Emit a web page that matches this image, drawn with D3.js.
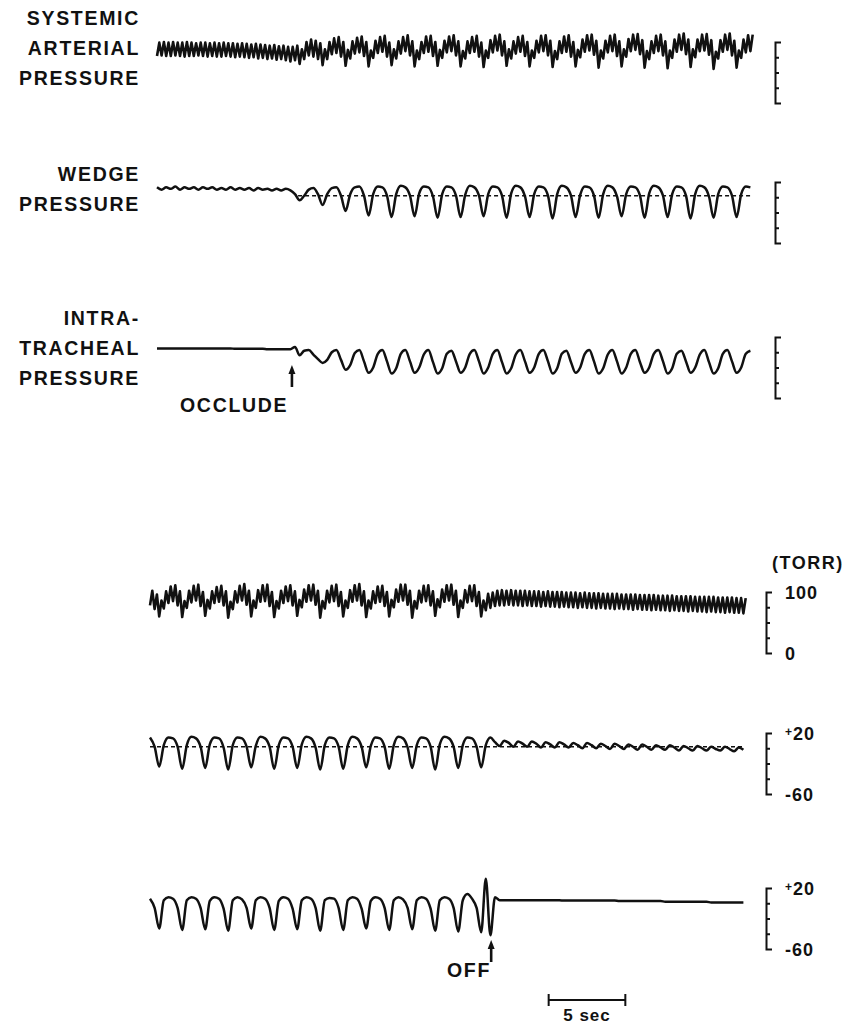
<!DOCTYPE html>
<html>
<head>
<meta charset="utf-8">
<script src="https://cdn.jsdelivr.net/npm/d3@7/dist/d3.min.js"></script>
<style>
  body { margin: 0; background: #fff; }
  svg { display: block; }
  text { font-family: "Liberation Sans", Arial, sans-serif; fill: #111; font-weight: bold; }
</style>
</head>
<body>
<svg id="chart" width="851" height="1030"></svg>
<script>
const artStep = 0.15;   // arterial: alternating diastolic / systolic
const respStep = 0.3;   // wedge and intratracheal

// event times (s)
const occludeAt = 8.8;
const offAt = 22.25;

// systemic arterial pressure (torr), before / after occlusion
const arterialTop = [
  77,99, 78,100, 77,99, 77,100, 78,99, 77,99, 76,100, 77,99, 77,98, 78,99,
  77,99, 76,98, 77,99, 76,98, 76,99, 77,98, 76,98, 75,97, 76,98, 75,97,
  74,96, 75,97, 73,96, 74,95, 72,94, 73,95, 71,93, 72,94, 70,92, 68,92,
  70,94, 64,88, 72,100, 78,104, 76,102, 72,98,
  62,88, 72,100, 80,106, 82,108, 76,100,
  61,87, 73,101, 81,107, 83,109, 77,100,
  60,86, 74,102, 82,108, 84,110, 76,99,
  62,88, 73,101, 81,108, 85,111, 78,101,
  60,86, 72,100, 82,109, 84,110, 77,100,
  61,87, 74,102, 83,109, 85,111, 78,101,
  60,85, 73,101, 82,108, 84,110, 76,99,
  59,86, 74,103, 83,110, 86,112, 78,101,
  61,88, 73,101, 81,108, 84,110, 77,100,
  60,86, 74,102, 83,110, 85,111, 78,102,
  59,85, 72,101, 82,109, 84,111, 76,100,
  60,87, 75,104, 84,111, 86,112, 79,102,
  58,86, 73,102, 83,110, 85,112, 77,101,
  60,88, 76,105, 85,112, 87,113, 80,103,
  58,85, 72,101, 82,110, 85,112, 78,101,
  57,86, 74,104, 84,112, 87,114, 80,104,
  59,88, 75,104, 85,112, 86,113, 79,103,
  56,84, 73,103, 84,112, 87,114, 78,102,
  58,86, 74,104, 83,111, 85,112
];

const arterialBottom = [
  78,102, 72,96,
  60,86, 73,101, 82,109, 85,111, 78,101,
  59,85, 74,102, 83,110, 86,112, 77,100,
  61,87, 73,101, 82,108, 84,110, 78,101,
  58,84, 72,101, 83,110, 86,113, 79,102,
  60,86, 74,103, 84,111, 85,112, 77,100,
  59,85, 73,102, 82,109, 85,111, 78,101,
  61,87, 75,104, 84,111, 86,112, 79,102,
  58,85, 73,102, 83,110, 85,112, 77,100,
  60,86, 74,103, 84,111, 86,113, 78,101,
  59,86, 73,101, 82,109, 84,110, 77,100,
  60,87, 75,104, 84,112, 86,112, 79,102,
  58,85, 73,102, 83,110, 85,111, 78,101,
  61,88, 75,104, 84,111, 86,112, 79,102,
  59,86, 74,103, 83,110, 85,111, 77,100,
  60,86, 70,97,
  74,99, 77,102, 78,103, 78,102, 79,103, 78,102, 78,102, 77,102, 78,101, 77,101,
  77,101, 76,100, 77,101, 76,100, 76,100, 75,100, 76,99, 75,99, 75,99, 74,98,
  75,99, 74,98, 74,98, 73,98, 74,97, 73,97, 73,97, 72,97, 73,96, 72,96,
  72,96, 71,96, 72,95, 71,95, 71,95, 70,95, 71,94, 70,94, 70,94, 69,94,
  70,93, 69,93, 69,93, 68,93, 69,92, 68,92, 68,92, 67,92, 68,92, 67,91,
  67,91, 66,91, 67,91, 66,90, 66,90, 65,90
];

// wedge pressure (torr)
const wedgeTop = [
  13,10,13,11,14,10,13,11,13,10,13,11,13,10,12,10,13,10,12,10,12,9,12,10,11,9,11,9,11,9,
  4,-4,2,10,12,4,-10,4,12,13,2,-18,4,13,14,2,
  -24,4,14,13,2, -26,4,15,13,2, -25,5,14,13,1, -27,4,14,13,2,
  -26,3,15,13,2, -25,4,14,13,2, -27,5,15,13,1, -26,4,14,13,2,
  -28,4,15,13,2, -26,3,14,13,2, -27,4,15,13,1, -25,4,14,13,2,
  -27,5,15,13,2, -26,4,14,13,2, -28,4,15,13,1, -27,4,14,13,2,
  -26,4,14,13
];

const wedgeBottom = [
  14,2,
  -24,4,14,13,2, -27,4,15,13,2, -26,5,14,13,1, -28,4,14,13,2,
  -25,3,15,13,2, -27,4,14,13,2, -26,5,15,13,1, -28,4,14,13,2,
  -27,4,15,13,2, -25,3,14,13,2, -27,4,15,13,1, -26,4,14,13,2,
  -28,5,15,13,2, -26,4,14,13,2,
  -25,4,14,
  8,3,10,7,2,9,6,2,9,6,1,8,5,1,8,5,1,7,4,0,7,4,0,6,3,-1,6,3,-1,5,
  2,-2,5,2,-2,4,1,-2,4,1,-3,3,0,-3,3,0,-3,2,-1,-3,2,-1,-4,1,-2
];

// intratracheal pressure (torr)
const intraTop = [
  5,5,5,5,5,5,5,5,5,5,5,5,5,5,5,5,5,4.5,4.5,4.5,4.5,4.5,4.5,4.5,4,4,4,4,4,4,
  7,-4,2,3,-3,-9,-14,-10,0,3,-10,-23,-17,-1,3,-12,
  -27,-20,-2,3,-12, -28,-21,-2,3,-12, -27,-20,-3,3,-13, -28,-21,-2,2,-12,
  -27,-20,-2,3,-12, -28,-20,-2,3,-13, -28,-21,-3,3,-12, -27,-20,-2,3,-12,
  -28,-21,-2,2,-13, -27,-20,-2,3,-12, -28,-21,-3,3,-12, -28,-20,-2,3,-13,
  -27,-20,-2,3,-12, -28,-21,-2,2,-12, -27,-20,-3,3,-13, -28,-21,-2,3,-12,
  -27,-20,-2,2
];

const intraBottom = [
  6,-6,
  -33,4,8,6,-6, -35,4,8,6,-6, -34,3,8,6,-7, -36,4,8,5,-6,
  -33,4,8,6,-6, -35,3,8,6,-7, -34,4,8,6,-6, -36,4,7,6,-6,
  -35,4,8,6,-7, -33,3,8,6,-6, -35,4,8,5,-6, -34,4,8,6,-7,
  -36,4,8,6,-6, -37,4,12,6,-6,
  -38,32,-42,8,
  4,4,4,4,4,4,4,4,4,4,4,4,4,4,
  3.5,3.5,3.5,3.5,3.5,3.5,3.5,3.5,3.5,3.5,3.5,3.5,
  3,3,3,3,3,3,3,3,3,3,
  2,2,2,2,2,2,2,2,2,2,
  1,1,1,1,1,1,1,1
];

// dashed zero reference on the wedge traces (time span, level)
const wedgeRefTop = [9.2, 38.7];
const wedgeRefBottom = [0, 38.7];
const wedgeRefLevel = 2;

const pressureTicks = [20, 0, -20, -40, -60];
const arterialTicks = [100, 75, 50, 25, 0];

const svg = d3.select('#chart');

const xTop = d3.scaleLinear().domain([0, 39]).range([157, 755]);
const xBottom = d3.scaleLinear().domain([0, 39]).range([150, 748]);

const traces = [
  { values: arterialTop, step: artStep, x: xTop, domain: [0, 100], top: 42, ticks: arterialTicks, bx: 775, linear: true },
  { values: wedgeTop, step: respStep, x: xTop, domain: [-60, 20], top: 182, ticks: pressureTicks, bx: 775, ref: wedgeRefTop },
  { values: intraTop, step: respStep, x: xTop, domain: [-60, 20], top: 337, ticks: pressureTicks, bx: 775 },
  { values: arterialBottom, step: artStep, x: xBottom, domain: [0, 100], top: 592, ticks: arterialTicks, bx: 766, linear: true, labels: ['100', '0'] },
  { values: wedgeBottom, step: respStep, x: xBottom, domain: [-60, 20], top: 733, ticks: pressureTicks, bx: 766, ref: wedgeRefBottom, labels: ['+20', '-60'] },
  { values: intraBottom, step: respStep, x: xBottom, domain: [-60, 20], top: 888, ticks: pressureTicks, bx: 766, labels: ['+20', '-60'] }
];

traces.forEach(tr => {
  const y = d3.scaleLinear().domain(tr.domain).range([tr.top + 61, tr.top]);

  if (tr.ref) {
    svg.append('line')
      .attr('x1', tr.x(tr.ref[0])).attr('x2', tr.x(tr.ref[1]))
      .attr('y1', y(wedgeRefLevel)).attr('y2', y(wedgeRefLevel))
      .attr('stroke', '#111').attr('stroke-width', 1.6)
      .attr('stroke-dasharray', '4,3');
  }

  const line = d3.line()
    .x((d, i) => tr.x(i * tr.step))
    .y(d => y(d))
    .curve(tr.linear ? d3.curveLinear : d3.curveMonotoneX);

  svg.append('path')
    .datum(tr.values)
    .attr('d', line)
    .attr('fill', 'none')
    .attr('stroke', '#111')
    .attr('stroke-width', tr.linear ? 2.6 : 2.5)
    .attr('stroke-linejoin', 'round');

  // calibration bracket
  const axis = d3.axisRight(y)
    .tickValues(tr.ticks.slice(1, -1))
    .tickSizeInner(4)
    .tickSizeOuter(6)
    .tickFormat('');
  const g = svg.append('g')
    .attr('transform', `translate(${tr.bx},0)`)
    .call(axis);
  g.selectAll('path, line').attr('stroke', '#111').attr('stroke-width', 2);

  if (tr.labels) {
    [tr.domain[1], tr.domain[0]].forEach((v, i) => {
      const lab = tr.labels[i];
      const t = svg.append('text')
        .attr('x', tr.bx + 19)
        .attr('y', y(v) + 7)
        .attr('font-size', 18)
        .attr('letter-spacing', 1);
      if (lab[0] === '+') {
        t.append('tspan').attr('font-size', 12).attr('dy', -4).text('+');
        t.append('tspan').attr('dy', 4).text(lab.slice(1));
      } else {
        t.text(lab);
      }
    });
  }
});

// left titles
const titles = [
  { lines: ['SYSTEMIC', 'ARTERIAL', 'PRESSURE'], y: 25 },
  { lines: ['WEDGE', 'PRESSURE'], y: 181 },
  { lines: ['INTRA-', 'TRACHEAL', 'PRESSURE'], y: 325 }
];
titles.forEach(t => {
  t.lines.forEach((s, i) => {
    svg.append('text')
      .attr('x', 140)
      .attr('y', t.y + i * 30)
      .attr('text-anchor', 'end')
      .attr('font-size', 19.5)
      .attr('letter-spacing', 1.7)
      .text(s);
  });
});

svg.append('text')
  .attr('x', 772).attr('y', 569)
  .attr('font-size', 18).attr('letter-spacing', 1.5)
  .text('(TORR)');

// event arrows
function arrow(x, tip) {
  svg.append('line')
    .attr('x1', x).attr('x2', x)
    .attr('y1', tip + 6).attr('y2', tip + 22)
    .attr('stroke', '#111').attr('stroke-width', 2.6);
  svg.append('path')
    .attr('d', `M${x},${tip}L${x - 3.5},${tip + 9}L${x + 3.5},${tip + 9}Z`)
    .attr('fill', '#111');
}
arrow(xTop(occludeAt), 365);
arrow(xBottom(offAt), 940);

svg.append('text')
  .attr('x', 180).attr('y', 412)
  .attr('font-size', 19.5).attr('letter-spacing', 1.7)
  .text('OCCLUDE');

svg.append('text')
  .attr('x', 447).attr('y', 977)
  .attr('font-size', 19.5).attr('letter-spacing', 1.7)
  .text('OFF');

// time scale bar
const barT = [26, 31];
const bx0 = xBottom(barT[0]), bx1 = xBottom(barT[1]);
svg.append('path')
  .attr('d', `M${bx0},994V1006M${bx0},1000H${bx1}M${bx1},994V1006`)
  .attr('fill', 'none').attr('stroke', '#111').attr('stroke-width', 2);
svg.append('text')
  .attr('x', (bx0 + bx1) / 2).attr('y', 1021)
  .attr('text-anchor', 'middle')
  .attr('font-size', 17).attr('letter-spacing', 1)
  .text('5 sec');
</script>
</body>
</html>
